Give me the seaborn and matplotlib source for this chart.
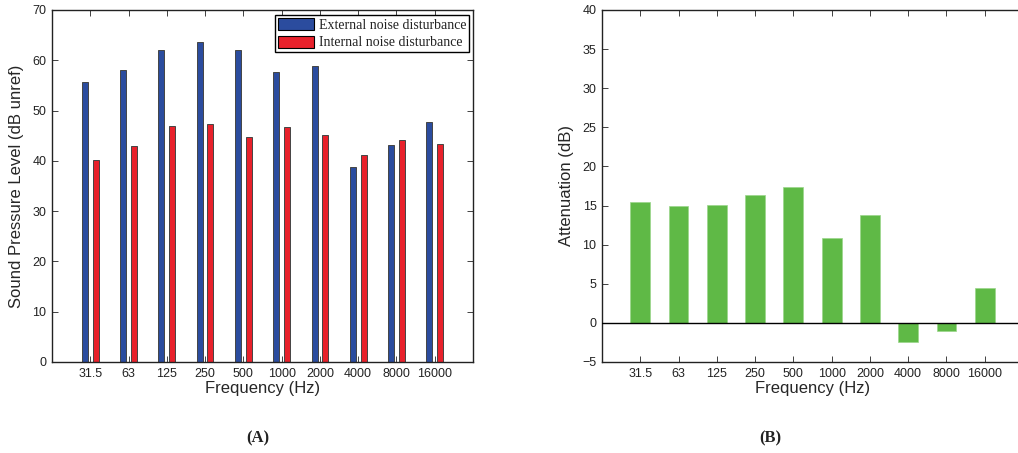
import matplotlib
matplotlib.use("Agg")
import matplotlib.pyplot as plt
import seaborn as sns
import pandas as pd
from matplotlib.patches import Patch

frequencies = ["31.5", "63", "125", "250", "500", "1000", "2000", "4000", "8000", "16000"]
external_noise = [55.6, 58.0, 62.0, 63.7, 62.0, 57.7, 58.9, 38.8, 43.2, 47.8]
internal_noise = [40.2, 43.0, 46.9, 47.3, 44.7, 46.8, 45.1, 41.1, 44.1, 43.3]
attenuation = [15.4, 15.0, 15.05, 16.4, 17.35, 10.9, 13.8, -2.45, -1.05, 4.5]
series_names = ["External noise disturbance", "Internal noise disturbance"]

sns.set_theme(style="ticks")
plt.rcParams["font.family"] = ["Liberation Sans", "DejaVu Sans"]
plt.rcParams["axes.edgecolor"] = "#222222"
plt.rcParams["xtick.color"] = "#222222"
plt.rcParams["ytick.color"] = "#222222"
plt.rcParams["text.color"] = "#222222"

blue = "#2b4c9e"
red = "#e8212b"
green = "#5fb946"

df = pd.DataFrame({
    "Frequency": frequencies * 2,
    "Level": external_noise + internal_noise,
    "Series": [series_names[0]] * len(frequencies) + [series_names[1]] * len(frequencies),
})
df_att = pd.DataFrame({"Frequency": frequencies, "Attenuation": attenuation})

fig = plt.figure(figsize=(10.18, 4.53), dpi=100)
ax1 = fig.add_axes([52 / 1018, 1 - 362 / 453, 421 / 1018, 352 / 453])
ax2 = fig.add_axes([602 / 1018, 1 - 362 / 453, 421 / 1018, 352 / 453])

sns.barplot(data=df, x="Frequency", y="Level", hue="Series", order=frequencies,
            hue_order=series_names, palette=[blue, red], saturation=1,
            width=0.56, gap=0.44, edgecolor="#444444", linewidth=0.7,
            ax=ax1, legend=False)
ax1.set_xlim(-1, 10)
ax1.set_ylim(0, 70)
ax1.set_yticks(range(0, 71, 10))
ax1.set_xlabel("Frequency (Hz)", fontsize=12, labelpad=1)
ax1.set_ylabel("Sound Pressure Level (dB unref)", fontsize=12, labelpad=6)

handles = [Patch(facecolor=blue, edgecolor="black", linewidth=0.8),
           Patch(facecolor=red, edgecolor="black", linewidth=0.8)]
leg = ax1.legend(handles, series_names, loc="upper right", bbox_to_anchor=(0.99, 0.985),
                 prop={"family": "Liberation Serif", "size": 10}, frameon=True,
                 fancybox=False, edgecolor="black", framealpha=1, borderpad=0.2,
                 handlelength=2.6, handleheight=1.0, handletextpad=0.3, labelspacing=0.25,
                 borderaxespad=0)
leg.get_frame().set_linewidth(1.0)

sns.barplot(data=df_att, x="Frequency", y="Attenuation", order=frequencies,
            color=green, saturation=1, width=0.52, edgecolor="#9ad68a", linewidth=0.5, ax=ax2)
ax2.axhline(0, color="black", linewidth=1.0, zorder=3)
ax2.set_xlim(-1, 10)
ax2.set_ylim(-5, 40)
ax2.set_yticks(range(-5, 41, 5))
ax2.set_yticklabels(["\u22125"] + [str(v) for v in range(0, 41, 5)])
ax2.set_xlabel("Frequency (Hz)", fontsize=12, labelpad=1)
ax2.set_ylabel("Attenuation (dB)", fontsize=12, labelpad=6)

for ax in (ax1, ax2):
    for s in ax.spines.values():
        s.set_visible(True)
        s.set_linewidth(1.0)
        s.set_color("#222222")
    ax.tick_params(axis="both", which="both", direction="in", length=4, width=0.6,
                   labelsize=9, top=True, right=True, pad=4)
    ax.set_facecolor("white")
ax2.tick_params(axis="y", right=False)

fig.text(258 / 1018, 1 - 438 / 453, "(A)", ha="center", va="center",
         fontfamily="Liberation Serif", fontweight="bold", fontsize=12)
fig.text(770 / 1018, 1 - 438 / 453, "(B)", ha="center", va="center",
         fontfamily="Liberation Serif", fontweight="bold", fontsize=12)

fig.savefig("out.png", dpi=100, facecolor="white")
